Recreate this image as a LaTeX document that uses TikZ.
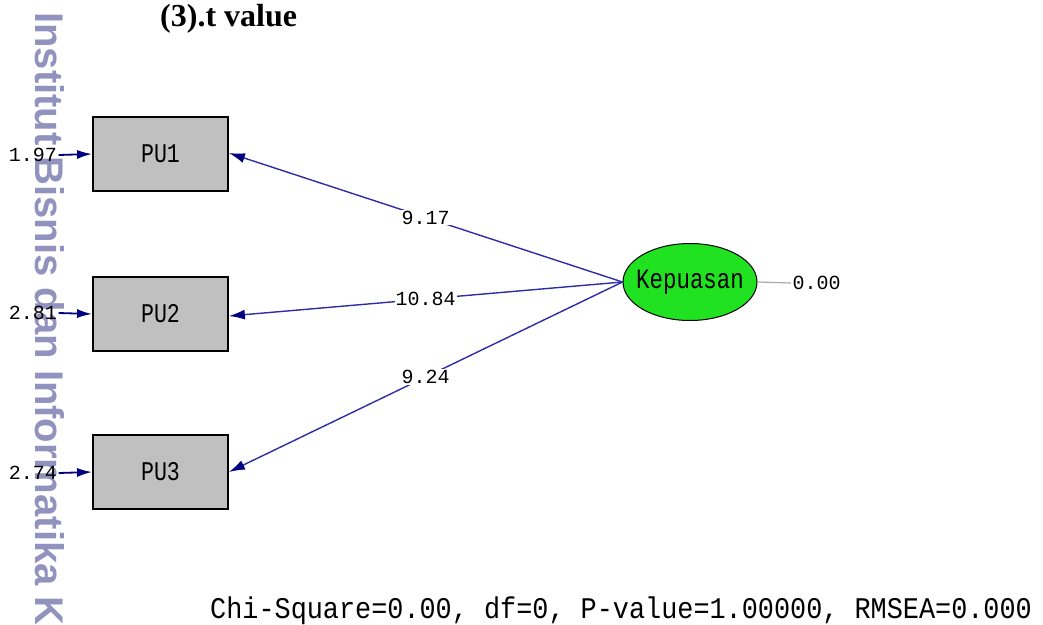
\documentclass[tikz,border=0pt]{standalone}
\usepackage{fontspec}
\usepackage{graphicx}
\setmainfont{Liberation Serif}
\newfontfamily\lmono{Liberation Mono}
\newfontfamily\lsans{Liberation Sans}
\usetikzlibrary{arrows.meta,shapes.geometric}
\definecolor{boxgray}{RGB}{192,192,192}
\definecolor{kgreen}{RGB}{32,226,32}
\definecolor{lnblue}{RGB}{45,45,165}
\definecolor{tipnavy}{RGB}{0,0,128}
\definecolor{wmark}{RGB}{146,146,190}
\definecolor{errgray}{RGB}{170,170,170}
\begin{document}
\begin{tikzpicture}[x=1pt,y=-1pt,
  obsbox/.style={draw=black, line width=1.8pt, fill=boxgray, minimum width=135pt,
    minimum height=74pt, inner sep=0pt, font=\lmono\fontsize{27}{27}\selectfont},
  latent/.style={ellipse, draw=black, line width=1pt, fill=kgreen, minimum width=134pt,
    minimum height=77pt, inner sep=0pt, font=\lmono\fontsize{28}{28}\selectfont},
  numlab/.style={font=\lmono\fontsize{20}{20}\selectfont, inner sep=1.5pt},
  midlab/.style={numlab, fill=white, inner sep=1pt},
  loadpath/.style={draw=lnblue, line width=1.4pt,
    -{Latex[length=16pt,width=10pt,color=tipnavy,fill=tipnavy]}},
  errpath/.style={draw=tipnavy, line width=1.8pt,
    -{Latex[length=15pt,width=9pt,color=tipnavy,fill=tipnavy]}},
  wmstyle/.style={rotate=-90, anchor=base west, inner sep=0pt, text=wmark,
    font=\lsans\bfseries\fontsize{40}{40}\selectfont},
  titlestyle/.style={anchor=base west, inner sep=0pt, font=\bfseries\fontsize{32}{32}\selectfont},
  fitstyle/.style={anchor=base west, inner sep=0pt, font=\lmono\fontsize{30}{30}\selectfont}
]
\useasboundingbox (0,0) rectangle (1043,624);

% watermark
\node[wmstyle] (wm) at (35,12) {Institut Bisnis dan Informatika K};

% title
\node[titlestyle] (title) at (160,26) {(3).t value};

% observed variables
\node[obsbox] (pu1) at (160.5,154) {\scalebox{0.8}[1]{PU1}};
\node[obsbox] (pu2) at (160.5,314) {\scalebox{0.8}[1]{PU2}};
\node[obsbox] (pu3) at (160.5,472) {\scalebox{0.8}[1]{PU3}};

% latent variable
\node[latent] (kep) at (690,282) {\makebox[0pt]{\scalebox{0.8}[1]{Kepuasan}}};

% error terms
\node[numlab] (e1) at (33,155) {1.97};
\node[numlab] (e2) at (33,313) {2.81};
\node[numlab] (e3) at (33,473) {2.74};
\draw[errpath] (e1.east) -- (pu1.west);
\draw[errpath] (e2.east) -- (pu2.west);
\draw[errpath] (e3.east) -- (pu3.west);

% latent error
\node[numlab, anchor=west] (z) at (791,283) {0.00};
\draw[errgray, line width=1.2pt] (kep.east) -- (z.west);

% loadings
\draw[loadpath] (kep.west) -- node[midlab] (l1) {9.17} ([yshift=1pt]pu1.east);
\draw[loadpath] (kep.west) -- node[midlab] (l2) {10.84} ([yshift=-2pt]pu2.east);
\draw[loadpath] (kep.west) -- node[midlab] (l3) {9.24} (pu3.east);

% fit statistics
\node[fitstyle] (fit) at (210,618) {\scalebox{0.895}[1]{Chi-Square=0.00, df=0, P-value=1.00000, RMSEA=0.000}};
\end{tikzpicture}
\end{document}
